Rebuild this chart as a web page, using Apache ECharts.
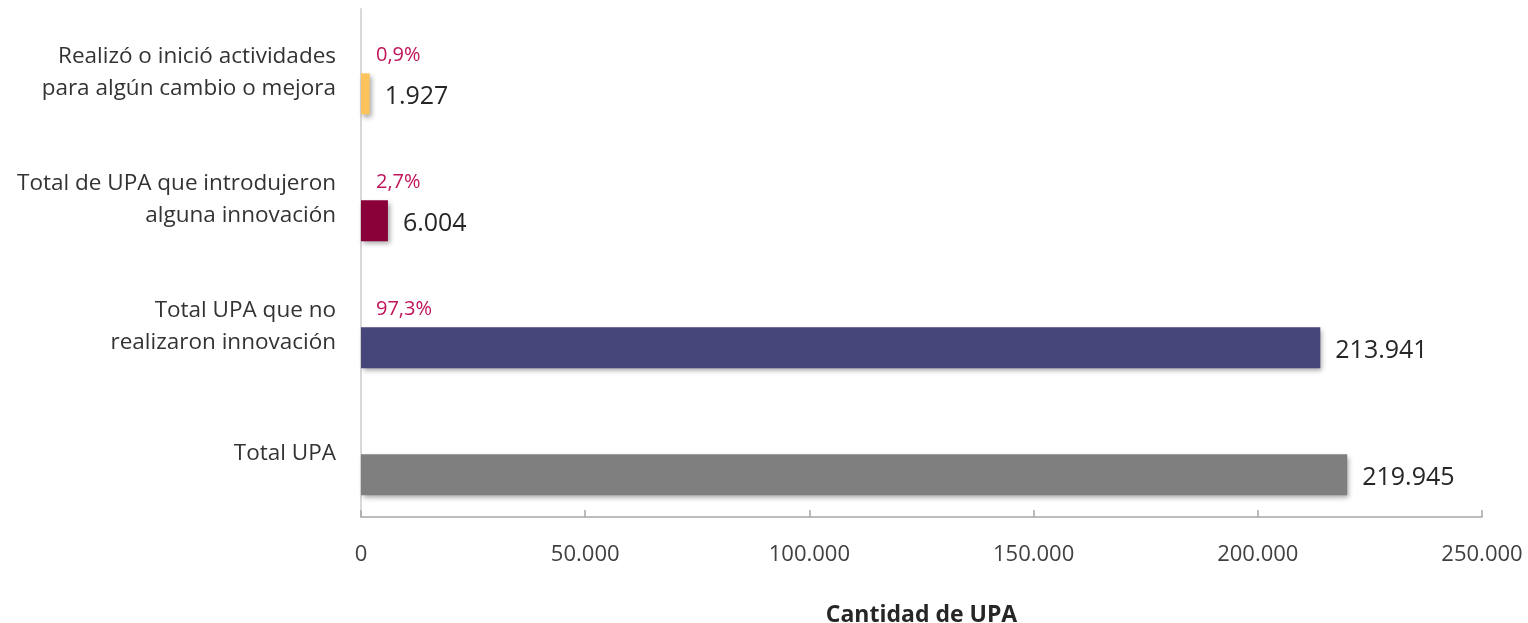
<!DOCTYPE html>
<html>
<head>
<meta charset="utf-8">
<script src="https://cdn.jsdelivr.net/npm/echarts@6/dist/echarts.min.js"></script>
<style>
html,body{margin:0;padding:0;background:#fff;}
#chart{width:1528px;height:623px;}
</style>
</head>
<body>
<div id="chart"></div>
<script>
var categories = [
  'Total UPA',
  'Total UPA que no\nrealizaron innovación',
  'Total de UPA que introdujeron\nalguna innovación',
  'Realizó o inició actividades\npara algún cambio o mejora'
];
var values = [219945, 213941, 6004, 1927];
var percents = [null, 97.3, 2.7, 0.9];
var barColors = ['#7F7F7F', '#46467A', '#8A0039', '#FFC35C'];
var xTicks = [0, 50000, 100000, 150000, 200000, 250000];
var xAxisTitle = 'Cantidad de UPA';

var FONT = '"Open Sans", "Noto Sans", sans-serif';
function fmtThousands(v) {
  return String(v).replace(/\B(?=(\d{3})+(?!\d))/g, '.');
}

var chart = echarts.init(document.getElementById('chart'), null, {renderer: 'canvas'});
chart.setOption({
  animation: false,
  backgroundColor: '#ffffff',
  grid: {left: 361, right: 46, top: 9, bottom: 106, containLabel: false, outerBoundsMode: 'none'},
  xAxis: {
    type: 'value',
    min: xTicks[0],
    max: xTicks[xTicks.length - 1],
    interval: xTicks[1] - xTicks[0],
    splitLine: {show: false},
    axisLine: {show: true, lineStyle: {color: '#A6A6A6', width: 1.5}},
    axisTick: {show: true, inside: true, length: 7, lineStyle: {color: '#A6A6A6', width: 1.5}},
    axisLabel: {
      margin: 27, fontSize: 22, color: '#404040', fontFamily: FONT,
      formatter: function (v) { return fmtThousands(v); }
    },
    name: xAxisTitle,
    nameLocation: 'middle',
    nameGap: 87,
    nameTextStyle: {fontSize: 23, fontWeight: 'bold', color: '#262626', fontFamily: FONT}
  },
  yAxis: {
    type: 'category',
    data: categories,
    axisLine: {show: true, lineStyle: {color: '#D9D9D9', width: 2}},
    axisTick: {show: false},
    splitLine: {show: false},
    axisLabel: {
      margin: 25, fontSize: 22.5, color: '#333333', fontFamily: FONT,
      lineHeight: 32, align: 'right', padding: [9, 0, 0, 0]
    }
  },
  series: [
    {
      name: 'Porcentaje',
      type: 'bar',
      barWidth: 41,
      barGap: '4%',
      data: percents.map(function (p) { return p == null ? '-' : p; }),
      itemStyle: {color: 'rgba(0,0,0,0)'},
      label: {
        show: true,
        position: 'insideLeft',
        distance: 15,
        offset: [0, 4],
        fontSize: 20,
        color: '#C0145A',
        fontFamily: FONT,
        formatter: function (p) {
          return p.value == null || p.value === '-' ? '' : String(p.value.toFixed(1)).replace('.', ',') + '%';
        }
      },
      silent: true
    },
    {
      name: 'Cantidad de UPA',
      type: 'bar',
      barWidth: 41,
      data: values.map(function (v, i) {
        return {value: v, itemStyle: {color: barColors[i]}};
      }),
      itemStyle: {
        shadowBlur: 5, shadowOffsetX: 2, shadowOffsetY: 3, shadowColor: 'rgba(0,0,0,0.35)'
      },
      label: {
        show: true,
        position: 'right',
        distance: 15,
        offset: [0, 3],
        fontSize: 25,
        color: '#262626',
        fontFamily: FONT,
        formatter: function (p) { return fmtThousands(p.value); }
      }
    }
  ]
});
</script>
</body>
</html>
